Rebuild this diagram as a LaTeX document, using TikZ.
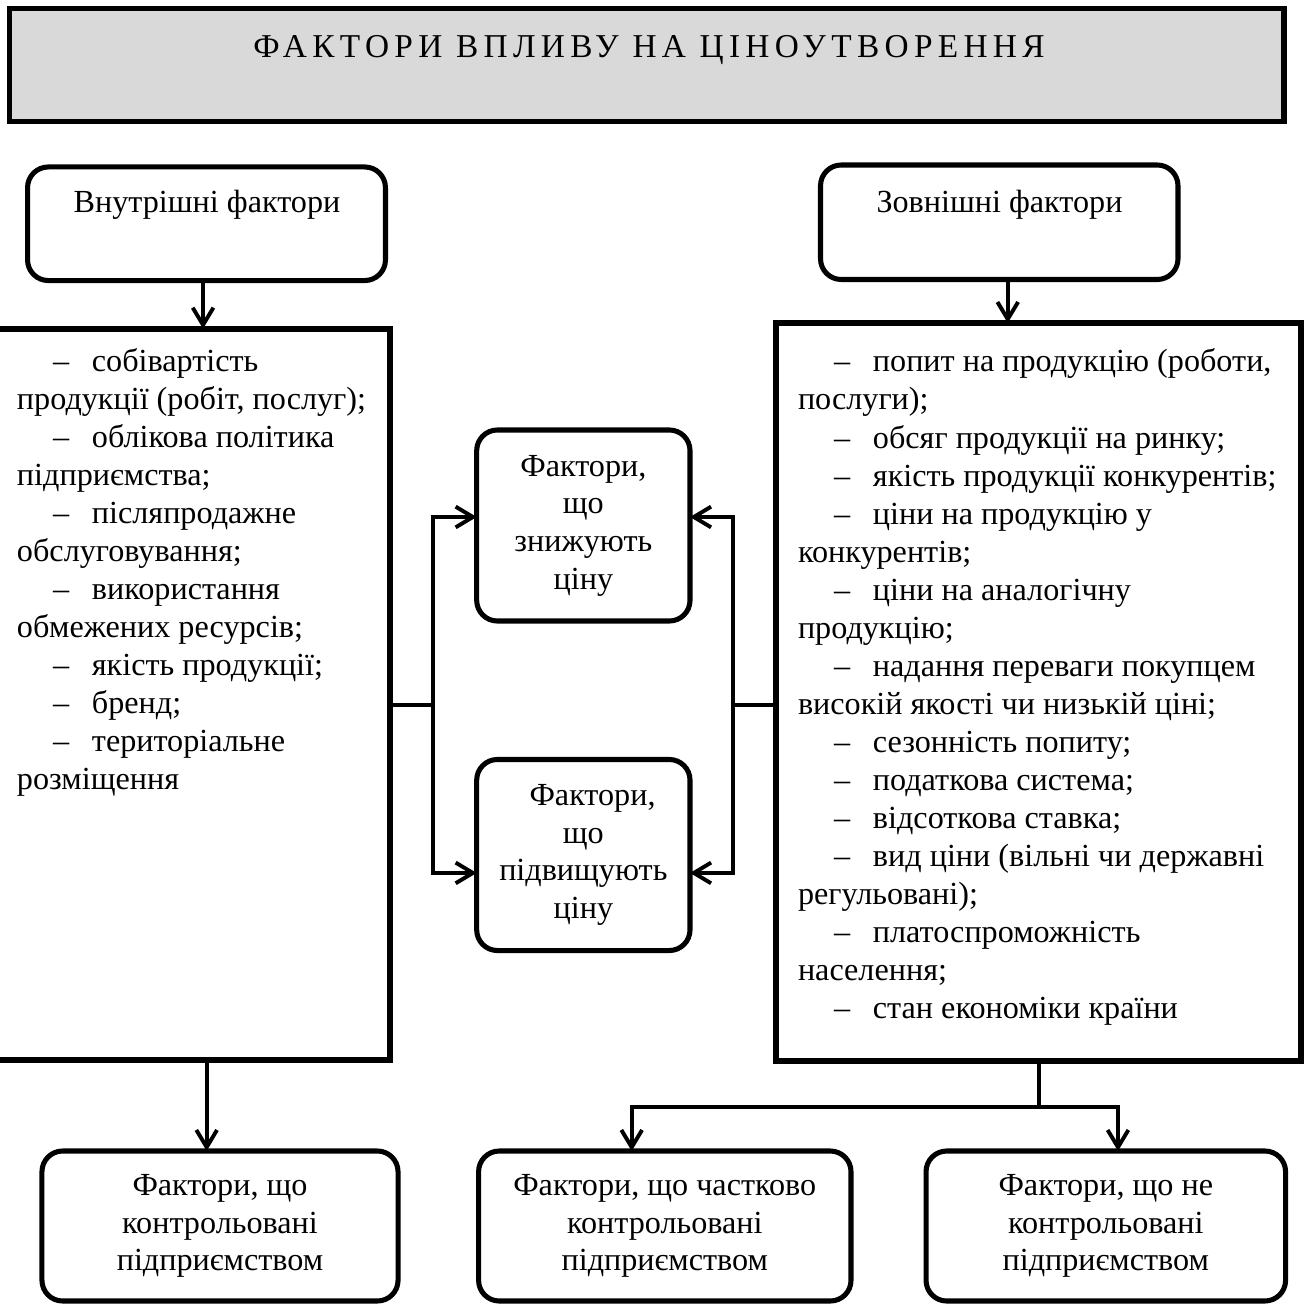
\documentclass[tikz,border=0pt]{standalone}
\usepackage{fontspec}
\setmainfont{Liberation Serif}
\usetikzlibrary{arrows.meta}
\definecolor{titlegray}{RGB}{217,217,217}
\newcommand{\itm}{\hspace*{15.7pt}\makebox[16.9pt][l]{–}}
\begin{document}
\begin{tikzpicture}[x=0.435pt, y=-0.435pt,
  every node/.style={font=\fontsize{14}{16.4}\selectfont, inner sep=0pt, outer sep=0pt},
  titlebox/.style={draw, fill=titlegray, line width=2.4pt},
  rbox/.style={draw, line width=2.2pt, rounded corners=9pt, align=center},
  bigbox/.style={draw, line width=2.6pt},
  listtext/.style={anchor=north west, align=left, font=\fontsize{14}{16.55}\selectfont},
  conn/.style={line width=1.7pt},
  arr/.style={conn, -{Straight Barb[length=7.5pt, width=9pt]}}
]
\useasboundingbox (0,0) rectangle (1304,1305);

% title
\node[titlebox, minimum width=554.3pt, minimum height=49.2pt] (title) at (646.6,65) {};
\node[anchor=base, font=\fontsize{14.5}{16}\selectfont\addfontfeature{LetterSpace=16}] (ttl) at (649,58) {ФАКТОРИ ВПЛИВУ НА ЦІНОУТВОРЕННЯ};

% top boxes
\node[rbox, minimum width=155.7pt, minimum height=49.4pt] (int) at (206.5,223.75) {};
\node[anchor=base] (intt) at (207,212.5) {Внутрішні фактори};
\node[rbox, minimum width=155.5pt, minimum height=49.8pt] (ext) at (999.25,222.25) {};
\node[anchor=base] (extt) at (999.5,212.3) {Зовнішні фактори};

% big list boxes
\node[bigbox, minimum width=178.4pt, minimum height=318.1pt] (intlist) at (185,694.35) {};
\node[listtext] (intlt) at (17,344.6) {\strut\itm собівартість\\
продукції (робіт, послуг);\\
\itm облікова політика\\
підприємства;\\
\itm післяпродажне\\
обслуговування;\\
\itm використання\\
обмежених ресурсів;\\
\itm якість продукції;\\
\itm бренд;\\
\itm територіальне\\
розміщення};

\node[bigbox, minimum width=228.2pt, minimum height=321pt] (extlist) at (1038.75,692) {};
\node[listtext] (extlt) at (798,345.3) {\strut\itm попит на продукцію (роботи,\\
послуги);\\
\itm обсяг продукції на ринку;\\
\itm якість продукції конкурентів;\\
\itm ціни на продукцію у\\
конкурентів;\\
\itm ціни на аналогічну\\
продукцію;\\
\itm надання переваги покупцем\\
високій якості чи низькій ціні;\\
\itm сезонність попиту;\\
\itm податкова система;\\
\itm відсоткова ставка;\\
\itm вид ціни (вільні чи державні\\
регульовані);\\
\itm платоспроможність\\
населення;\\
\itm стан економіки країни};

% middle boxes
\node[rbox, minimum width=92.8pt, minimum height=83.1pt] (dec) at (583.35,525.5) {Фактори,\\що\\знижують\\ціну};
\node[rbox, minimum width=92.8pt, minimum height=83.1pt] (inc) at (583.35,855) {\hspace*{8pt}Фактори,\\що\\підвищують\\ціну};

% bottom boxes
\node[rbox, minimum width=154.9pt, minimum height=65.25pt] (bl) at (220,1226) {Фактори, що\\контрольовані\\підприємством};
\node[rbox, minimum width=162pt, minimum height=65.25pt] (bm) at (664.8,1226) {Фактори, що частково\\контрольовані\\підприємством};
\node[rbox, minimum width=156.4pt, minimum height=65.25pt] (br) at (1105.8,1226) {Фактори, що не\\контрольовані\\підприємством};

% connectors top
\draw[arr] ([xshift=-1.5pt]int.south) -- ([xshift=-1.5pt]int.south |- intlist.north);
\draw[arr] ([xshift=3.7pt]ext.south) -- ([xshift=3.7pt]ext.south |- extlist.north);

% middle connectors
\coordinate (lj) at (433,705);
\coordinate (rj) at (732.7,705);
\draw[conn] (lj -| intlist.east) -- (lj);
\draw[arr] (lj) |- ([yshift=3.7pt]dec.west);
\draw[arr] (lj) |- ([yshift=-7.8pt]inc.west);
\draw[conn] (rj -| extlist.west) -- (rj);
\draw[arr] (rj) |- ([yshift=3.7pt]dec.east);
\draw[arr] (rj) |- ([yshift=-7.8pt]inc.east);

% bottom connectors
\draw[arr] ([xshift=-5.8pt]bl.north |- intlist.south) -- ([xshift=-5.8pt]bl.north);
\coordinate (jn) at (1038.75,1106.7);
\draw[conn] (extlist.south) -- (jn);
\draw[arr] (jn) -| ([xshift=-14.4pt]bm.north);
\draw[arr] (jn) -| ([xshift=5.3pt]br.north);
\end{tikzpicture}
\end{document}
